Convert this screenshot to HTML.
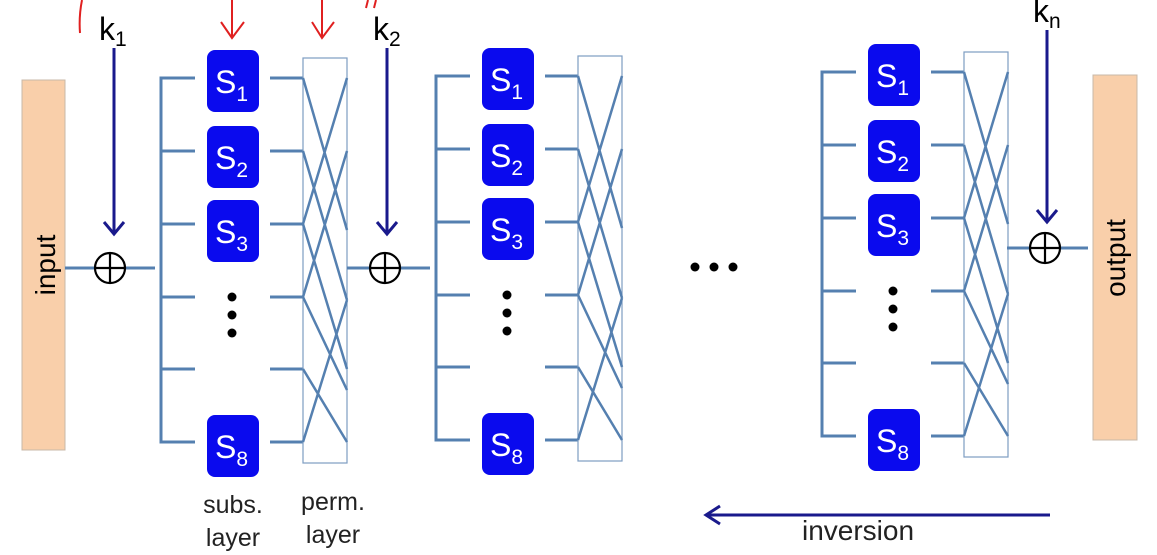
<!DOCTYPE html>
<html><head><meta charset="utf-8"><style>
html,body{margin:0;padding:0;background:#fff;}
svg{display:block;}
text{font-family:"Liberation Sans",sans-serif;}
</style></head><body>
<svg width="1157" height="555" viewBox="0 0 1157 555" xmlns="http://www.w3.org/2000/svg">
<defs>
<g id="blk">
  <g stroke="#5580b0" stroke-width="3" fill="none">
    <path d="M195 78H161V442H195M161 151H195M161 224H195M161 297H195M161 369H195"/>
    <path d="M270 78H303M270 151H303M270 224H303M270 297H303M270 369H303M270 442H303"/>
  </g>
  <rect x="303" y="58" width="44" height="405" fill="none" stroke="#7d9cc2" stroke-width="1.2"/>
  <g stroke="#5580b0" stroke-width="2.5" fill="none">
    <path d="M303 78L347 230M303 224L347 78M303 151L347 300M303 297L347 151M303 369L347 442M303 442L347 300M303 297L347 390M303 224L347 369"/>
  </g>
  <g fill="#0a0aee">
    <rect x="207" y="50" width="52" height="62" rx="8"/>
    <rect x="207" y="126" width="52" height="62" rx="8"/>
    <rect x="207" y="200" width="52" height="62" rx="8"/>
    <rect x="207" y="415" width="52" height="62" rx="8"/>
  </g>
  <g fill="#fff" font-size="32">
    <text x="215" y="93">S<tspan font-size="21" dy="8">1</tspan></text>
    <text x="215" y="169">S<tspan font-size="21" dy="8">2</tspan></text>
    <text x="215" y="243">S<tspan font-size="21" dy="8">3</tspan></text>
    <text x="215" y="458">S<tspan font-size="21" dy="8">8</tspan></text>
  </g>
  <g fill="#000"><circle cx="232" cy="297" r="4.5"/><circle cx="232" cy="315" r="4.5"/><circle cx="232" cy="333" r="4.5"/></g>
</g>
</defs>

<rect x="22" y="80" width="43" height="370" fill="#f9cfaa" stroke="#c8b8a8" stroke-width="1"/>
<text transform="translate(55 265) rotate(-90)" text-anchor="middle" font-size="28">input</text>

<use href="#blk"/>
<use href="#blk" transform="translate(275,-2)"/>
<use href="#blk" transform="translate(661,-6)"/>

<rect x="1093" y="75" width="44" height="365" fill="#f9cfaa" stroke="#c8b8a8" stroke-width="1"/>
<text transform="translate(1125 258) rotate(-90)" text-anchor="middle" font-size="28">output</text>

<g stroke="#5580b0" stroke-width="3">
  <path d="M65 268H94M126 268H155M347 268H369M401 268H430M1007 248H1029M1061 248H1088"/>
</g>
<g stroke="#000" stroke-width="2.2" fill="none">
  <circle cx="110" cy="268" r="15"/><path d="M95 268H125M110 253V283"/>
  <circle cx="385" cy="268" r="15"/><path d="M370 268H400M385 253V283"/>
  <circle cx="1045" cy="248" r="15"/><path d="M1030 248H1060M1045 233V263"/>
</g>
<g stroke="#1a1a8c" stroke-width="3" fill="none">
  <path d="M114 48V232M104 222L114 234L124 222"/>
  <path d="M387 48V232M377 222L387 234L397 222"/>
  <path d="M1047 30V220M1037 210L1047 222L1057 210"/>
</g>
<g font-size="32" fill="#000">
  <text x="99" y="40">k<tspan font-size="21" dy="6">1</tspan></text>
  <text x="373" y="40">k<tspan font-size="21" dy="6">2</tspan></text>
  <text x="1033" y="22">k<tspan font-size="21" dy="6">n</tspan></text>
</g>
<g stroke="#e02020" stroke-width="2" fill="none">
  <path d="M82 0C80 10 79 20 80 33"/>
  <path d="M232 0V36M221 22L232 38L244 22"/>
  <path d="M322 0V36M312 22L322 38L334 22"/>
  <path d="M368 0L366 8M376 0L374 8"/>
</g>
<g fill="#000"><circle cx="695" cy="267" r="4.5"/><circle cx="714" cy="267" r="4.5"/><circle cx="733" cy="267" r="4.5"/></g>
<g font-size="25" fill="#222" text-anchor="middle">
  <text x="233" y="513">subs.</text><text x="233" y="546">layer</text>
  <text x="333" y="510">perm.</text><text x="333" y="543">layer</text>
  <text x="858" y="540" font-size="28">inversion</text>
</g>
<g stroke="#1a1a8c" stroke-width="3" fill="none">
  <path d="M1050 515H707M720 506L706 515L720 524"/>
</g>
</svg>
</body></html>
